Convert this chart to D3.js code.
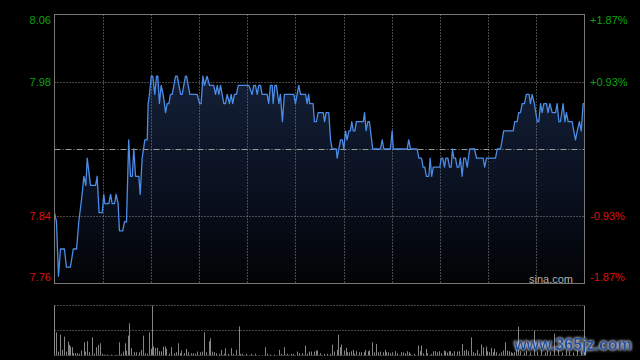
<!DOCTYPE html>
<html><head><meta charset="utf-8">
<script src="https://cdn.jsdelivr.net/npm/d3@7"></script>
<style>html,body{margin:0;padding:0;background:#000;}svg{display:block;}</style>
</head><body>
<svg id="c" width="640" height="360"></svg>
<script>
// ---- data ----
const prevClose = 7.91;
const pctLimit = 0.0187;
const priceTickLabels = ["8.06", "7.98", "7.84", "7.76"];
const pctTickLabels = ["+1.87%", "+0.93%", "-0.93%", "-1.87%"];
const pctTickValues = [0.0187, 0.0093, -0.0093, -0.0187];
const gridPct = [0.0093, -0.0093];
// [minute of session (0..240), price]
const minutePrice = [[0,7.84],[0.9,7.83],[1.8,7.77],[2.7,7.80],[4.5,7.80],[5.4,7.78],[7.2,7.78],[8.5,7.80],[10.0,7.80],[11.0,7.83],[12.5,7.86],[13.3,7.88],[14.2,7.87],[14.8,7.90],[16.3,7.87],[18.6,7.87],[19.3,7.88],[20.2,7.84],[21.6,7.84],[22.3,7.86],[22.8,7.85],[24.6,7.85],[25.4,7.86],[26.1,7.85],[27.2,7.85],[27.9,7.86],[28.8,7.85],[29.4,7.82],[30.9,7.82],[31.7,7.83],[32.6,7.83],[33.6,7.92],[34.4,7.88],[35.2,7.88],[35.9,7.91],[36.7,7.88],[38.2,7.88],[38.8,7.86],[39.7,7.90],[40.9,7.92],[42.0,7.92],[42.4,7.96],[43.0,7.97],[43.8,7.99],[44.5,7.99],[45.4,7.97],[46.2,7.99],[46.8,7.99],[47.5,7.96],[48.3,7.98],[49.2,7.97],[50.3,7.95],[51.0,7.96],[51.8,7.96],[52.5,7.97],[53.3,7.97],[54.8,7.99],[55.6,7.99],[57.1,7.97],[57.8,7.97],[59.3,7.99],[59.8,7.99],[61.3,7.97],[64.6,7.97],[65.7,7.96],[66.4,7.96],[67.2,7.99],[67.9,7.98],[69.1,7.99],[70.2,7.98],[72.1,7.98],[72.9,7.97],[73.7,7.98],[74.4,7.97],[75.2,7.98],[75.9,7.97],[76.7,7.96],[77.4,7.96],[78.2,7.97],[79.2,7.96],[80.0,7.97],[80.7,7.96],[81.5,7.97],[82.4,7.97],[83.2,7.98],[88.0,7.98],[89.5,7.97],[90.2,7.98],[91.0,7.98],[91.8,7.97],[92.5,7.98],[93.3,7.98],[94.0,7.97],[96.3,7.97],[97.0,7.96],[97.8,7.98],[98.6,7.98],[99.0,7.96],[99.8,7.98],[100.5,7.98],[101.6,7.96],[102.3,7.97],[103.2,7.94],[104.1,7.97],[108.4,7.97],[109.1,7.96],[110.6,7.98],[111.4,7.97],[113.7,7.97],[114.4,7.96],[115.1,7.97],[115.6,7.96],[117.1,7.96],[117.7,7.94],[118.6,7.94],[119.4,7.95],[121.7,7.95],[122.3,7.94],[123.0,7.95],[124.2,7.95],[125.0,7.92],[125.7,7.91],[127.6,7.91],[128.0,7.90],[129.5,7.92],[130.3,7.92],[131.0,7.91],[131.8,7.93],[132.5,7.92],[133.3,7.93],[134.0,7.93],[134.6,7.94],[135.3,7.93],[136.0,7.93],[136.7,7.94],[139.8,7.94],[140.4,7.95],[141.1,7.93],[141.9,7.94],[142.6,7.94],[143.1,7.93],[144.1,7.91],[147.6,7.91],[148.4,7.92],[149.1,7.91],[152.1,7.91],[152.9,7.93],[153.4,7.91],[159.7,7.91],[160.4,7.92],[161.2,7.91],[164.2,7.91],[165.0,7.90],[166.2,7.90],[166.9,7.89],[167.7,7.89],[168.4,7.88],[169.5,7.88],[170.1,7.90],[170.8,7.88],[171.5,7.89],[174.5,7.89],[175.1,7.90],[175.8,7.90],[176.6,7.89],[177.2,7.90],[178.1,7.90],[178.9,7.89],[179.6,7.89],[180.2,7.91],[180.8,7.90],[181.6,7.90],[182.3,7.89],[183.1,7.89],[183.8,7.90],[184.6,7.88],[185.3,7.90],[186.1,7.90],[186.9,7.89],[188.0,7.91],[190.2,7.91],[191.1,7.90],[194.1,7.90],[194.8,7.89],[195.6,7.90],[199.7,7.90],[200.5,7.91],[202.0,7.91],[203.4,7.93],[207.7,7.93],[208.4,7.94],[209.5,7.94],[210.2,7.95],[211.0,7.95],[211.8,7.96],[212.8,7.96],[213.7,7.97],[214.9,7.97],[215.5,7.96],[216.3,7.97],[217.3,7.96],[218.6,7.94],[219.3,7.94],[220.1,7.96],[220.8,7.95],[221.6,7.96],[222.8,7.96],[223.5,7.95],[224.3,7.96],[225.4,7.95],[226.9,7.95],[227.6,7.96],[228.4,7.94],[229.1,7.94],[230.3,7.96],[231.1,7.94],[231.8,7.95],[232.6,7.94],[234.4,7.94],[235.9,7.92],[236.7,7.93],[237.7,7.94],[238.5,7.93],[239.4,7.96],[240.0,7.96]];
// [minute of session, volume (lots)]
const minuteVolume = [[0.5,2330],[1.4,400],[2.3,2100],[2.7,1430],[3.6,570],[4.1,1900],[5.0,400],[5.9,1400],[6.5,1070],[7.2,900],[7.7,830],[8.6,230],[9.5,230],[10.3,230],[11.2,170],[12.2,500],[13.3,1330],[14.0,400],[14.9,1430],[15.8,330],[16.8,1830],[17.7,170],[18.6,830],[19.5,1070],[20.4,1230],[21.3,170],[22.3,100],[23.9,100],[25.4,100],[27.8,70],[29.0,1330],[29.9,170],[30.9,400],[31.7,1230],[32.6,500],[33.2,2000],[33.8,3230],[34.7,730],[35.9,330],[36.8,330],[38.4,330],[39.3,570],[40.3,2000],[41.2,230],[42.0,170],[42.7,2330],[43.5,670],[44.1,5030],[44.8,900],[45.7,770],[46.5,770],[47.1,430],[48.0,430],[49.2,900],[49.9,900],[50.7,670],[51.8,170],[52.8,830],[54.0,230],[54.8,330],[55.7,1230],[56.7,230],[57.4,500],[58.5,230],[59.5,670],[60.5,330],[61.6,230],[62.8,230],[63.8,170],[64.6,400],[65.7,330],[66.7,400],[67.6,2330],[68.4,330],[69.9,1430],[70.3,1730],[71.2,400],[72.1,330],[73.2,230],[74.4,170],[75.3,570],[76.7,170],[77.4,730],[78.5,170],[80.0,730],[80.9,170],[82.3,570],[83.5,2930],[84.2,170],[85.0,170],[86.9,170],[89.2,170],[91.0,170],[95.2,830],[96.3,170],[97.8,100],[99.3,100],[101.7,570],[102.7,170],[104.0,830],[105.4,170],[106.9,170],[107.9,170],[109.9,400],[110.6,230],[112.2,230],[113.3,1000],[114.4,170],[115.3,400],[116.2,400],[117.4,400],[118.3,500],[119.0,500],[120.4,230],[121.9,170],[123.5,170],[124.7,170],[125.7,1100],[126.7,400],[127.7,570],[128.5,2100],[129.2,830],[129.6,1100],[131.0,500],[131.8,770],[132.5,330],[133.3,330],[134.3,430],[135.1,570],[135.8,170],[136.7,430],[137.8,330],[138.9,330],[140.1,330],[140.8,570],[141.9,430],[142.6,500],[143.7,1330],[144.6,330],[145.7,1170],[146.4,330],[147.6,400],[148.7,330],[149.6,570],[150.3,330],[151.2,330],[152.1,230],[152.9,330],[154.4,430],[155.2,230],[156.7,330],[157.9,330],[158.9,230],[159.7,430],[160.6,330],[161.2,170],[162.7,170],[164.5,1000],[165.3,430],[166.0,1000],[166.9,230],[168.0,670],[168.8,230],[170.3,170],[171.5,430],[172.2,430],[173.3,330],[174.2,430],[174.8,230],[176.3,500],[177.0,430],[177.8,300],[178.7,430],[179.3,430],[180.2,230],[181.1,430],[182.3,400],[183.1,430],[184.6,1170],[185.3,500],[186.4,570],[187.3,430],[188.5,1830],[189.3,330],[190.2,230],[191.4,570],[192.4,170],[193.2,1100],[193.9,830],[195.2,900],[195.9,430],[196.8,330],[197.6,770],[198.6,330],[199.2,670],[200.0,330],[201.2,170],[202.0,330],[203.0,500],[203.8,1330],[205.0,500],[205.9,430],[206.5,330],[207.3,230],[208.3,330],[208.9,730],[210.0,2900],[211.0,430],[212.4,300],[213.7,500],[215.1,300],[217.0,2500],[218.3,400],[220.1,600],[221.9,300],[223.2,500],[224.6,400],[226.1,2200],[227.8,600],[229.6,300],[231.4,500],[233.2,400],[235.0,300],[236.8,600],[238.6,400],[240.0,800]];
const sessionMinutes = 240;
const verticalDivisions = 11;
const sourceLabel = "sina.com";
const watermarkLabel = "www.365jz.com";

// ---- layout ----
const P = {left: 54.5, right: 584.5, top: 14.5, bottom: 283.5};
const V = {top: 305.5, mid: 330.5, bottom: 355.5};
const svg = d3.select("#c");
const font = "'Liberation Sans', Arial, sans-serif";

const x = d3.scaleLinear().domain([0, sessionMinutes]).range([P.left, P.right]);
const y = d3.scaleLinear().domain([prevClose*(1-pctLimit), prevClose*(1+pctLimit)]).range([P.bottom, P.top]);
const pctY = p => y(prevClose*(1+p));
const vMax = d3.max(minuteVolume, d => d[1]);
const yv = d3.scaleLinear().domain([0, vMax]).range([V.bottom, V.top]);

// gradient for area
const defs = svg.append("defs");
const grad = defs.append("linearGradient").attr("id","ag").attr("gradientUnits","userSpaceOnUse")
  .attr("x1",0).attr("x2",0).attr("y1",y(8.0)).attr("y2",P.bottom);
grad.append("stop").attr("offset","0%").attr("stop-color","#142139");
grad.append("stop").attr("offset","55%").attr("stop-color","#0a1120");
grad.append("stop").attr("offset","100%").attr("stop-color","#020305");
const blur = defs.append("filter").attr("id","glow").attr("x","-10%").attr("y","-30%").attr("width","120%").attr("height","160%");
blur.append("feGaussianBlur").attr("in","SourceAlpha").attr("stdDeviation",1.6).attr("result","b");
blur.append("feFlood").attr("flood-color","#c8ccd6");
blur.append("feComposite").attr("in2","b").attr("operator","in").attr("result","g");
const fm = blur.append("feMerge");
fm.append("feMergeNode").attr("in","g");
fm.append("feMergeNode").attr("in","g");
fm.append("feMergeNode").attr("in","SourceGraphic");

// area + line
const area = d3.area().x(d => x(d[0])).y0(P.bottom).y1(d => y(d[1]));
svg.append("path").datum(minutePrice).attr("d", area).attr("fill","url(#ag)");

// vertical grid
const vgrid = d3.range(1, verticalDivisions).map(i => i*sessionMinutes/verticalDivisions);
svg.append("g").selectAll("line").data(vgrid).join("line")
  .attr("x1", d => Math.round(x(d))+0.5).attr("x2", d => Math.round(x(d))+0.5)
  .attr("y1", P.top).attr("y2", P.bottom)
  .attr("stroke","#8a8a8a").attr("stroke-width",1).attr("stroke-dasharray","1,2");
// horizontal grid
svg.append("g").selectAll("line").data(gridPct).join("line")
  .attr("x1", P.left).attr("x2", P.right)
  .attr("y1", d => Math.round(pctY(d))+0.5).attr("y2", d => Math.round(pctY(d))+0.5)
  .attr("stroke","#8a8a8a").attr("stroke-width",1).attr("stroke-dasharray","1,2");
// prev close line
svg.append("line").attr("x1",P.left).attr("x2",P.right)
  .attr("y1",Math.round(y(prevClose))+0.5).attr("y2",Math.round(y(prevClose))+0.5)
  .attr("stroke","#9a9a9a").attr("stroke-width",1).attr("stroke-dasharray","6,2,1,2");

const line = d3.line().x(d => x(d[0])).y(d => y(d[1]));
svg.append("path").datum(minutePrice).attr("d", line).attr("fill","none")
  .attr("stroke","#4b8ce6").attr("stroke-width",1.3).attr("stroke-linejoin","round");

// frame
svg.append("rect").attr("x",P.left).attr("y",P.top).attr("width",P.right-P.left).attr("height",P.bottom-P.top)
  .attr("fill","none").attr("stroke","#777").attr("stroke-width",1);

// labels
const clampY = v => Math.max(P.top+6, Math.min(P.bottom-6, v));
svg.append("g").selectAll("text").data(pctTickValues).join("text")
  .attr("x", 51).attr("y", d => clampY(pctY(d))).attr("dy","0.36em")
  .attr("text-anchor","end").attr("font-family",font).attr("font-size",11)
  .attr("fill", d => d > 0 ? "#11a011" : "#dd1111")
  .text((d,i) => priceTickLabels[i]);
svg.append("g").selectAll("text").data(pctTickValues).join("text")
  .attr("x", 590).attr("y", d => clampY(pctY(d))).attr("dy","0.36em")
  .attr("text-anchor","start").attr("font-family",font).attr("font-size",11)
  .attr("fill", d => d > 0 ? "#11a011" : "#dd1111")
  .text((d,i) => pctTickLabels[i]);
svg.append("text").attr("x",573).attr("y",279).attr("dy","0.36em").attr("text-anchor","end")
  .attr("font-family",font).attr("font-size",11).attr("fill","#b0b0b0").text(sourceLabel);

// volume panel
[V.top, V.mid].forEach(yy => {
  svg.append("line").attr("x1",P.left).attr("x2",P.right).attr("y1",yy).attr("y2",yy)
    .attr("stroke","#8a8a8a").attr("stroke-dasharray","1,2");
});
svg.append("g").selectAll("rect").data(minuteVolume).join("rect")
  .attr("x", d => Math.round(x(d[0]))).attr("width",1)
  .attr("y", d => yv(d[1])).attr("height", d => V.bottom - yv(d[1]))
  .attr("fill","#858585");
svg.append("line").attr("x1",P.left).attr("x2",P.left).attr("y1",V.top).attr("y2",V.bottom).attr("stroke","#888");
svg.append("line").attr("x1",P.right).attr("x2",P.right).attr("y1",V.top).attr("y2",V.bottom).attr("stroke","#888");
svg.append("line").attr("x1",P.left).attr("x2",P.right).attr("y1",V.bottom).attr("y2",V.bottom)
  .attr("stroke","#777").attr("stroke-dasharray","1,2");

// watermark
svg.append("text").attr("x",573).attr("y",350).attr("text-anchor","middle")
  .attr("font-family",font).attr("font-weight","bold").attr("font-size",16)
  .attr("fill","#1d4f9e").attr("filter","url(#glow)").text(watermarkLabel);
</script>
</body></html>
